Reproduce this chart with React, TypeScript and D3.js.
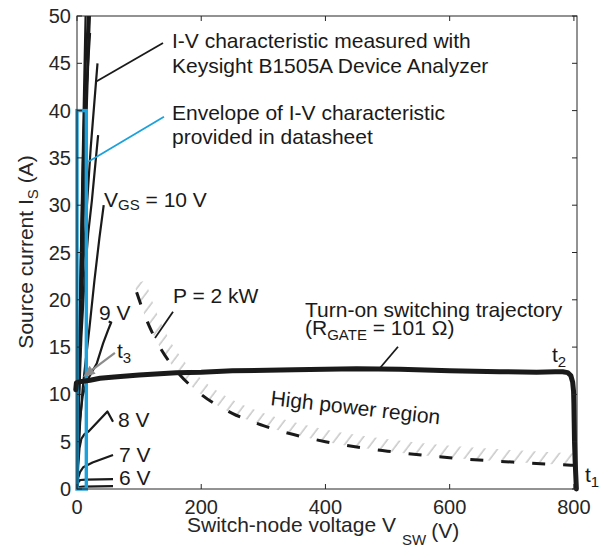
import React from 'react';
import * as d3 from 'd3';

type Pt = [number, number];

// ---------- data (V in volts, I in amperes) ----------
const xTicks = [0, 200, 400, 600, 800];
const yTicks = [0, 5, 10, 15, 20, 25, 30, 35, 40, 45, 50];

// measured I-V characteristics (Keysight B1505A)
const ivGate5V: Pt[] = [[0, 0], [3, 0.2], [10, 0.25], [58, 0.3]];
const ivGate6V: Pt[] = [[0, 0], [2, 0.7], [5, 0.95], [15, 1.0], [58, 1.05]];
const ivGate7V: Pt[] = [[0, 0], [2, 1.2], [5, 1.8], [10, 2.3], [25, 2.8], [58, 3.6]];
const ivGate8V: Pt[] = [[0, 0], [2, 2.5], [4, 4.3], [7, 5.3], [12, 5.8], [19, 6.1], [49, 8.2], [58, 7.1]];
const ivGate9V: Pt[] = [[0, 0], [2, 4], [5, 7.5], [9, 9.8], [14, 11], [20, 11.9], [32, 13.3], [42, 15.4], [50, 16.8], [55, 17.6], [51, 17.7]];
const ivGate10V: Pt[] = [[0, 0], [2, 3.5], [5, 7], [9, 10.5], [13, 13], [20, 17], [28, 22], [36, 26.5], [43, 30]];
const ivHighA: Pt[] = [[0, 0], [3, 9], [7, 16], [12, 22], [18, 27], [24, 30.5], [34, 37.4]];
const ivHighB: Pt[] = [[0, 0], [3, 10], [7, 19], [12, 26], [17, 31], [22, 36], [33, 45]];
const ivHighC: Pt[] = [[0, 0], [3, 11], [7, 24], [11, 34], [16, 43], [21, 48.2]];
const ivHighD: Pt[] = [[0, 0], [3, 12], [6, 24], [10, 36], [14, 45], [18, 50.5]];
const ivHighE: Pt[] = [[0, 0], [2, 9], [5, 20], [8, 31], [11, 41], [14, 50.5]];
const ivHighF: Pt[] = [[0, 0], [3, 11], [7, 22], [12, 34], [17, 45], [20, 50.5]];
const ivHighG: Pt[] = [[0, 0], [4, 12], [9, 25], [14, 37], [19, 47], [21, 50.5]];

// datasheet envelope (V max, I max)
const envelopeCorner: Pt = [15, 40];

// turn-on switching trajectory
const trajectory: Pt[] = [
  [-2, 10.5], [-1, 11.2], [2, 11.3], [10, 11.4], [21, 11.5], [37, 11.7], [60, 11.85], [100, 12.05],
  [160, 12.3], [200, 12.35], [250, 12.5], [350, 12.6], [450, 12.7], [520, 12.65], [600, 12.5],
  [680, 12.4], [740, 12.35], [770, 12.4], [782, 12.4], [790, 12.3], [795, 12.0], [798, 11.3],
  [799.5, 10.3], [800, 9], [800.5, 7], [801, 5], [802, 3], [803, 1.5], [804, 0],
];

// P = 2 kW constant-power boundary
const powerCurve: Pt[] = [
  [96, 20.8], [110, 18.2], [130, 15.4], [160, 12.5], [200, 10], [250, 8], [300, 6.7],
  [400, 5], [500, 4], [600, 3.3], [700, 2.85], [800, 2.5],
];

// ---------- layout ----------
const W = 605;
const H = 548;
const FONT = "'Liberation Sans', Arial, Helvetica, sans-serif";
const INK = '#1a1a1a';
const AXIS = '#262626';
const BLUE = '#1ba1dc';
const GRAY = '#8c8c8c';
const FS = 21;
const SUB = 15;

const x = d3.scaleLinear().domain([0, 805]).range([77, 577]);
const y = d3.scaleLinear().domain([0, 50]).range([489, 16]);

const line = d3.line<Pt>().x(d => x(d[0])).y(d => y(d[1]));
const powerLine = d3.line<Pt>().x(d => x(d[0])).y(d => y(d[1])).curve(d3.curveMonotoneX);
const trajLine = d3.line<Pt>().x(d => x(d[0])).y(d => y(d[1])).curve(d3.curveLinear);

const aboveArea = d3
  .area<Pt>()
  .x(d => x(d[0]))
  .y0(d => y(d[1]))
  .y1(() => y(60))
  .curve(d3.curveMonotoneX);

const ivCurves: Pt[][] = [ivHighA, ivHighB, ivHighC, ivHighD, ivHighE, ivHighF, ivHighG];
const ivLow: Pt[][] = [ivGate5V, ivGate6V, ivGate7V, ivGate8V, ivGate9V, ivGate10V];

const Sub = ({ children, size = SUB, dy = 5 }: any) => (
  <tspan fontSize={size} dy={dy}>{children}</tspan>
);

function Leader({ from, to, color = INK }: { from: Pt; to: Pt; color?: string }) {
  return (
    <line x1={x(from[0])} y1={y(from[1])} x2={x(to[0])} y2={y(to[1])} stroke={color} strokeWidth={1.8} />
  );
}

export default function App() {
  const x0 = x.range()[0], x1 = x.range()[1];
  const y0 = y.range()[0], y1 = y.range()[1];
  const tl = 5;

  // arrow t3
  const tail: Pt = [61, 14.4];
  const tip: Pt = [9.7, 11.84];
  const ax = x(tip[0]), ay = y(tip[1]);
  const bx = x(tail[0]), by = y(tail[1]);
  const ang = Math.atan2(ay - by, ax - bx);
  const ah = 12, aw = 5;
  const baseX = ax - ah * Math.cos(ang), baseY = ay - ah * Math.sin(ang);
  const head = [
    [ax, ay],
    [baseX + aw * Math.sin(ang), baseY - aw * Math.cos(ang)],
    [baseX - aw * Math.sin(ang), baseY + aw * Math.cos(ang)],
  ].map(p => p.join(',')).join(' ');

  const hatchBand: Pt[] = [[92, 21.7], ...powerCurve];

  return (
    <svg width={W} height={H} style={{ position: 'absolute', left: 0, top: 0, background: '#fff' }} fontFamily={FONT}>
      <defs>
        <clipPath id="plot">
          <rect x={x0} y={y1} width={x1 - x0} height={y0 - y1} />
        </clipPath>
        <clipPath id="above">
          <path d={aboveArea(hatchBand) || ''} />
        </clipPath>
        <pattern id="hatch" patternUnits="userSpaceOnUse" width={10.4} height={20} patternTransform="rotate(37)">
          <line x1={2} y1={0} x2={2} y2={20} stroke="#b3b3b3" strokeWidth={1.1} />
        </pattern>
      </defs>

      {/* high power region hatch */}
      <g clipPath="url(#plot)">
        <g clipPath="url(#above)">
          <path d={powerLine(hatchBand) || ''} fill="none" stroke="url(#hatch)" strokeWidth={24} />
        </g>
        <path d={powerLine(powerCurve) || ''} fill="none" stroke={INK} strokeWidth={3} strokeDasharray="13 18" />
      </g>

      {/* I-V curves */}
      <g clipPath="url(#plot)" fill="none" stroke={INK} strokeLinejoin="round">
        {ivCurves.map((c, i) => (
          <path key={'h' + i} d={line(c) || ''} strokeWidth={2.2} />
        ))}
        {ivLow.map((c, i) => (
          <path key={'l' + i} d={line(c) || ''} strokeWidth={2.2} />
        ))}
      </g>

      {/* datasheet envelope */}
      <rect
        x={x(0)}
        y={y(envelopeCorner[1])}
        width={x(envelopeCorner[0]) - x(0)}
        height={y(0) - y(envelopeCorner[1])}
        fill="none"
        stroke={BLUE}
        strokeWidth={3.4}
      />

      {/* trajectory */}
      <path d={trajLine(trajectory) || ''} fill="none" stroke={INK} strokeWidth={5} strokeLinejoin="round" strokeLinecap="round" />

      {/* axes box */}
      <rect x={x0} y={y1} width={x1 - x0} height={y0 - y1} fill="none" stroke={AXIS} strokeWidth={1} />
      <g stroke={AXIS} strokeWidth={1}>
        {xTicks.map(t => (
          <g key={'xt' + t}>
            <line x1={x(t)} x2={x(t)} y1={y0} y2={y0 - tl} />
            <line x1={x(t)} x2={x(t)} y1={y1} y2={y1 + tl} />
          </g>
        ))}
        {yTicks.map(t => (
          <g key={'yt' + t}>
            <line x1={x0} x2={x0 + tl} y1={y(t)} y2={y(t)} />
            <line x1={x1} x2={x1 - tl} y1={y(t)} y2={y(t)} />
          </g>
        ))}
      </g>
      <g fontSize={20} fill={AXIS}>
        {xTicks.map(t => (
          <text key={'xl' + t} x={x(t)} y={y0 + 25} textAnchor="middle">{t}</text>
        ))}
        {yTicks.map(t => (
          <text key={'yl' + t} x={x0 - 6} y={y(t) + 7} textAnchor="end">{t}</text>
        ))}
      </g>

      {/* axis labels */}
      <text fontSize={FS} fill={AXIS} transform={`translate(33,252) rotate(-90)`} textAnchor="middle">
        Source current I<Sub>S</Sub><tspan dy={-5}> (A)</tspan>
      </text>
      <text x={187} y={532} fontSize={FS} fill={AXIS}>
        Switch-node voltage V<tspan dx={6} dy={13} fontSize={SUB}>SW</tspan><tspan dx={5} dy={-7}>(V)</tspan>
      </text>

      {/* leaders */}
      <Leader from={[138.5, 47.15]} to={[31.7, 43.1]} />
      <Leader from={[140, 39.36]} to={[18.2, 34.6]} color={BLUE} />
      <Leader from={[154.6, 18.74]} to={[125.6, 15.96]} />
      <Leader from={[516.8, 15.04]} to={[487.8, 12.79]} />
      <line x1={bx} y1={by} x2={baseX} y2={baseY} stroke={GRAY} strokeWidth={2.2} />
      <polygon points={head} fill={GRAY} />

      {/* annotations */}
      <g fontSize={FS} fill={INK}>
        <text x={172} y={48}>I-V characteristic measured with</text>
        <text x={172} y={73}>Keysight B1505A Device Analyzer</text>
        <text x={172} y={120}>Envelope of I-V characteristic</text>
        <text x={172} y={144}>provided in datasheet</text>
        <text x={104} y={207}>V<Sub dy={3}>GS</Sub><tspan dy={-3}> = 10 V</tspan></text>
        <text x={99} y={320}>9 V</text>
        <text x={117} y={358}>t<Sub dy={5}>3</Sub></text>
        <text x={173} y={303}>P = 2 kW</text>
        <text x={118} y={427}>8 V</text>
        <text x={119} y={462}>7 V</text>
        <text x={119} y={485}>6 V</text>
        <text x={305} y={317}>Turn-on switching trajectory</text>
        <text x={305} y={335}>(R<Sub dy={5}>GATE</Sub><tspan dy={-5}> = 101 Ω)</tspan></text>
        <text transform="translate(270,405) rotate(6.5)">High power region</text>
        <text x={552} y={362}>t<Sub dy={5}>2</Sub></text>
        <text x={585} y={482}>t<Sub dy={5}>1</Sub></text>
      </g>
    </svg>
  );
}
